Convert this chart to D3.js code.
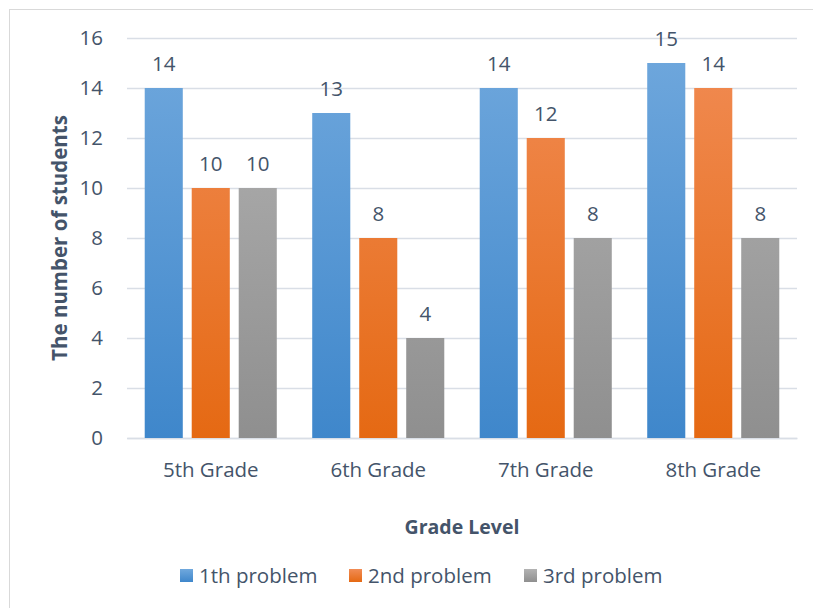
<!DOCTYPE html>
<html><head><meta charset="utf-8">
<script src="https://cdn.jsdelivr.net/npm/d3@7"></script>
<style>body{margin:0;background:#fff}svg{display:block}text{font-family:"Open Sans",sans-serif;fill:#44546a}</style>
</head><body><svg id="c" width="813" height="608"></svg>
<script>
const categories = ["5th Grade","6th Grade","7th Grade","8th Grade"];
const seriesNames = ["1th problem","2nd problem","3rd problem"];
const problem1 = [14,13,14,15];
const problem2 = [10,8,12,14];
const problem3 = [10,4,8,8];
const yTicks = [0,2,4,6,8,10,12,14,16];
const xTitle = "Grade Level";
const yTitle = "The number of students";

const series = [problem1, problem2, problem3];
const grads = [["#70a8dd","#3f87cb"],["#f18c55","#e56913"],["#b3b3b3","#8f8f8f"]];
const FS = 20.5;

const svg = d3.select("#c");
const m = {l:127, r:797, t:38, b:438};
const x0 = d3.scaleBand().domain(categories).range([m.l, m.r]).paddingInner(0).paddingOuter(0);
const x1 = d3.scaleBand().domain(d3.range(3)).range([0, x0.bandwidth()]).paddingInner(0.19).paddingOuter(0.377);
const y = d3.scaleLinear().domain([0,16]).range([m.b, m.t]);

const defs = svg.append("defs");
grads.forEach((g,i)=>{
  const lg = defs.append("linearGradient").attr("id","g"+i)
    .attr("gradientUnits","userSpaceOnUse").attr("x1",0).attr("x2",0).attr("y1",m.t).attr("y2",m.b);
  lg.append("stop").attr("offset","0").attr("stop-color",g[0]);
  lg.append("stop").attr("offset","1").attr("stop-color",g[1]);
  const lg2 = defs.append("linearGradient").attr("id","lg"+i).attr("x1",0).attr("y1",0).attr("x2",0).attr("y2",1);
  lg2.append("stop").attr("offset","0").attr("stop-color",g[0]);
  lg2.append("stop").attr("offset","1").attr("stop-color",g[1]);
});

svg.append("rect").attr("x",9.5).attr("y",9.5).attr("width",830).attr("height",620).attr("fill","none").attr("stroke","#d9d9d9");

const yAxis = d3.axisLeft(y).tickValues(yTicks).tickSize(-(m.r-m.l)).tickPadding(24);
const gy = svg.append("g").attr("transform",`translate(${m.l},0)`).call(yAxis);
gy.select(".domain").remove();
gy.selectAll("line").attr("stroke","#d9dee6").attr("stroke-width",1.3);
gy.selectAll("text").attr("font-size",FS).style("fill","#44546a").style("font-family","Open Sans");

const xAxis = d3.axisBottom(x0).tickSize(0).tickPadding(24);
const gx = svg.append("g").attr("transform",`translate(0,${m.b})`).call(xAxis);
gx.select(".domain").attr("stroke","#d9dee6").attr("stroke-width",1.5);
gx.selectAll("text").attr("font-size",FS).style("fill","#44546a").style("font-family","Open Sans");

const groups = svg.append("g").selectAll("g").data(categories).join("g")
  .attr("transform",d=>`translate(${x0(d)},0)`);
series.forEach((s,i)=>{
  groups.append("rect").attr("x",x1(i)).attr("width",x1.bandwidth())
    .attr("y",(d,j)=>y(s[j])).attr("height",(d,j)=>y(0)-y(s[j])).attr("fill",`url(#g${i})`);
  groups.append("text").attr("x",x1(i)+x1.bandwidth()/2).attr("y",(d,j)=>y(s[j])-17)
    .attr("text-anchor","middle").attr("font-size",FS).text((d,j)=>s[j]);
});

svg.append("text").attr("x",(m.l+m.r)/2).attr("y",534).attr("text-anchor","middle")
  .attr("font-size",19.5).attr("font-weight","bold").text(xTitle);
svg.append("text").attr("transform",`translate(67,${(m.t+m.b)/2}) rotate(-90)`).attr("text-anchor","middle")
  .attr("font-size",FS).attr("font-weight","bold").text(yTitle);

const leg = svg.append("g");
const legX = [180, 349, 524];
seriesNames.forEach((n,i)=>{
  const g = leg.append("g").attr("transform",`translate(${legX[i]},569)`);
  g.append("rect").attr("width",13).attr("height",13).attr("fill",`url(#lg${i})`);
  g.append("text").attr("x",19).attr("y",14).attr("font-size",FS).text(n);
});
</script></body></html>
